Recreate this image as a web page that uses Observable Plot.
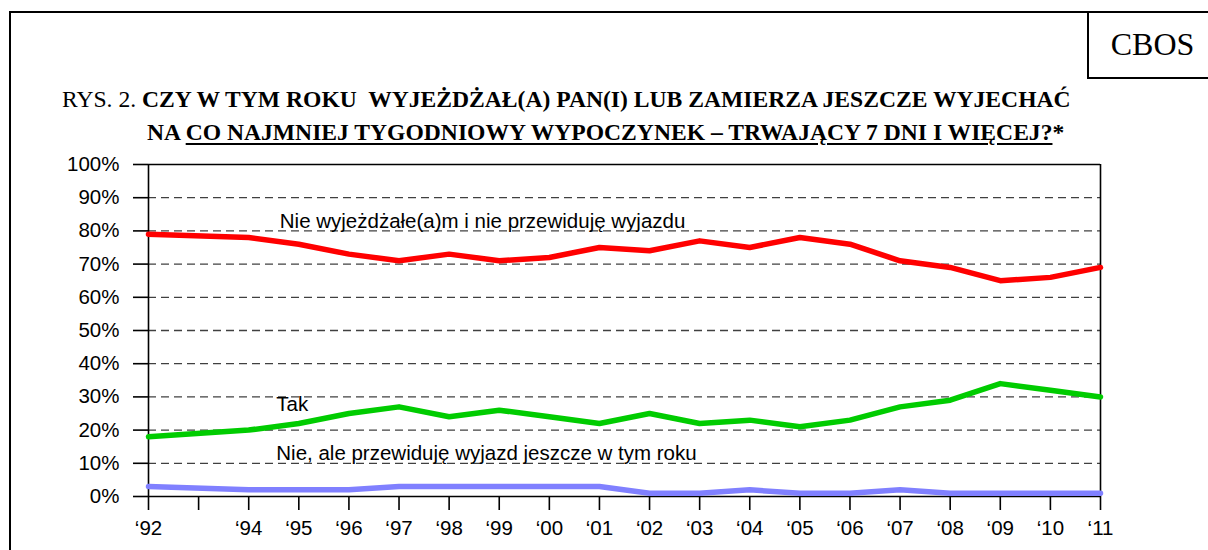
<!DOCTYPE html>
<html><head><meta charset="utf-8">
<script src="https://cdn.jsdelivr.net/npm/d3@7"></script>
<script src="https://cdn.jsdelivr.net/npm/@observablehq/plot@0.6"></script>
<style>
body{margin:0;background:#fff;}
#wrap{position:relative;width:1208px;height:550px;overflow:hidden;background:#fff;}
#frame{position:absolute;left:9px;top:11px;width:1199px;height:600px;border-left:2px solid #000;border-top:2px solid #000;}
#cbos{position:absolute;left:1087px;top:12px;width:121px;height:65px;border-left:2px solid #000;border-bottom:2px solid #000;font-family:"Liberation Serif",serif;font-size:32px;display:flex;align-items:center;justify-content:center;box-sizing:content-box;padding-left:6px;width:115px;}
.t{position:absolute;font-family:"Liberation Serif",serif;font-size:23.6px;line-height:24px;white-space:pre;color:#000;}
.t b{font-weight:bold;}
.u{text-decoration:underline;text-decoration-thickness:2px;text-underline-offset:3px;}
#chart{position:absolute;left:0;top:150px;}
</style></head><body>
<div id="wrap">
  <div id="frame"></div>
  <div id="cbos">CBOS</div>
  <div class="t" style="left:62px;top:87px;">RYS. 2. <b>CZY W TYM ROKU  WYJEŻDŻAŁ(A) PAN(I) LUB ZAMIERZA JESZCZE WYJECHAĆ</b></div>
  <div class="t" style="left:147px;top:120px;"><b>NA <span class="u">CO NAJMNIEJ TYGODNIOWY WYPOCZYNEK – TRWAJĄCY 7 DNI I WIĘCEJ?</span>*</b></div>
  <div id="chart"></div>
</div>
<script>
const years = [1992, 1994, 1995, 1996, 1997, 1998, 1999, 2000, 2001, 2002, 2003, 2004, 2005, 2006, 2007, 2008, 2009, 2010, 2011];
const nieWyjezdzal = [79, 78, 76, 73, 71, 73, 71, 72, 75, 74, 77, 75, 78, 76, 71, 69, 65, 66, 69];
const tak = [18, 20, 22, 25, 27, 24, 26, 24, 22, 25, 22, 23, 21, 23, 27, 29, 34, 32, 30];
const nieAle = [3, 2, 2, 2, 3, 3, 3, 3, 3, 1, 1, 2, 1, 1, 2, 1, 1, 1, 1];
const seriesNames = ["Nie wyjeżdżałe(a)m i nie przewiduję wyjazdu", "Tak", "Nie, ale przewiduję wyjazd jeszcze w tym roku"];
const seriesColors = ["#ff0000", "#00cc00", "#8080ff"];
const xTickYears = [1992, 1993, 1994, 1995, 1996, 1997, 1998, 1999, 2000, 2001, 2002, 2003, 2004, 2005, 2006, 2007, 2008, 2009, 2010, 2011];
const xTickLabels = ["‘92", "", "‘94", "‘95", "‘96", "‘97", "‘98", "‘99", "‘00", "‘01", "‘02", "‘03", "‘04", "‘05", "‘06", "‘07", "‘08", "‘09", "‘10", "‘11"];
const yTicks = [0, 10, 20, 30, 40, 50, 60, 70, 80, 90, 100];
const gridValues = [10, 20, 30, 40, 50, 60, 70, 80, 90];

const seriesValues = [nieWyjezdzal, tak, nieAle];
const rows = [];
seriesNames.forEach((s, k) => years.forEach((yr, i) => rows.push({series: s, year: yr, value: seriesValues[k][i]})));
const xLabelMap = new Map(xTickYears.map((y, i) => [y, xTickLabels[i]]));

const fs = 20.5;
const chart = Plot.plot({
  width: 1208, height: 400,
  marginTop: 14, marginBottom: 54, marginLeft: 148, marginRight: 108,
  x: {domain: [1992, 2011]},
  y: {domain: [0, 100]},
  color: {domain: seriesNames, range: seriesColors},
  style: {fontFamily: "'Liberation Sans', Arial, sans-serif", fontSize: fs + "px", color: "#000", background: "transparent", overflow: "visible"},
  marks: [
    Plot.ruleY(gridValues, {stroke: "#000", strokeOpacity: 0.75, strokeWidth: 1.3, strokeDasharray: "8,5"}),
    Plot.ruleY([0, 100], {stroke: "#000", strokeWidth: 1.6}),
    Plot.ruleX([1992, 2011], {stroke: "#000", strokeWidth: 1.6}),
    Plot.axisY(yTicks, {tickSize: 15, tickPadding: 14, tickFormat: d => d + "%", strokeWidth: 1.6, label: null, fontSize: fs}),
    Plot.axisX(xTickYears, {tickSize: 14, tickPadding: 10, tickFormat: d => xLabelMap.get(d), strokeWidth: 1.6, label: null, fontSize: fs}),
    Plot.line(rows, {x: "year", y: "value", z: "series", stroke: "series", strokeWidth: 5.5, strokeLinejoin: "round", strokeLinecap: "round"}),
    Plot.text([seriesNames[0]], {x: 1994.62, y: 82.8, text: d => d, textAnchor: "start", fontSize: fs, fill: "#000"}),
    Plot.text([seriesNames[1]], {x: 1994.55, y: 27.7, text: d => d, textAnchor: "start", fontSize: fs, fill: "#000"}),
    Plot.text([seriesNames[2]], {x: 1994.55, y: 12.9, text: d => d, textAnchor: "start", fontSize: fs, fill: "#000"})
  ]
});
document.getElementById("chart").appendChild(chart);
</script>
</body></html>
